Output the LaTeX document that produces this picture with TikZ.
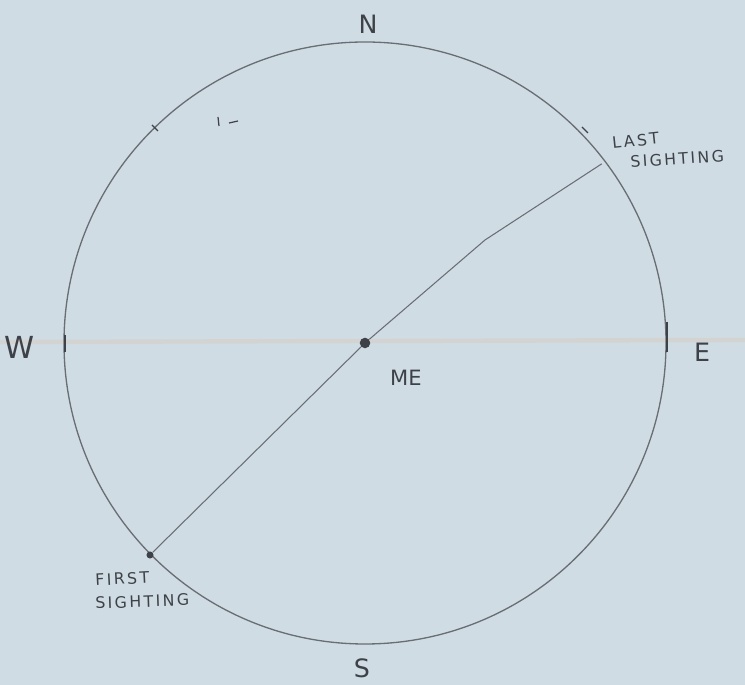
\documentclass[tikz,border=0pt]{standalone}
\usepackage{fontspec}
\setmainfont{DejaVu Sans}
\definecolor{paper}{RGB}{207,220,227}
\definecolor{pencil}{RGB}{105,110,116}
\definecolor{lead}{RGB}{62,66,72}
\definecolor{crease}{RGB}{214,208,200}
\usetikzlibrary{positioning}
\tikzset{
	ring/.style={draw=pencil, line width=0.75pt},
	sightline/.style={draw=pencil, line width=0.6pt},
	tick/.style={draw=lead, line width=0.7pt},
	dotmark/.style={circle, fill=lead, inner sep=0pt, minimum size=#1},
	compass/.style={text=lead, font=\Large, inner sep=0pt},
	note/.style={text=lead, font=\fontsize{9}{11}\selectfont\addfontfeatures{LetterSpace=15}, align=left, inner sep=0pt},
}
\begin{document}
\begin{tikzpicture}[x=0.02cm, y=-0.02cm]
		\fill[paper] (0,0) rectangle (745,685);
		\useasboundingbox (0,0) rectangle (745,685);
		% fold in the paper
		\draw[crease, line width=2.5pt, opacity=0.6] (0,342) -- (745,340);
		\node[dotmark=6pt] (me) at (365,343) {};
		\draw[ring] (me) circle[radius=301];
		\node[dotmark=4pt] (first) at (150,555) {};
		\node[inner sep=0pt] (last) at (603,163) {};
		\coordinate (bend) at (485,240);
		\draw[sightline] (first) -- (me) -- (bend) -- (last);
		% ticks on the circle
		\draw[tick] (65,335) -- (65,352);
		\draw[tick] (667,322) -- (667,352);
		\draw[tick] (152,125) -- (158,131);
		\draw[tick] (582,127) -- (588,133);
		\draw[tick] (218,117) -- (219,126);
		\draw[tick] (229,123) -- (238,121);
		% labels
		\node[compass] (north) at (368,24) {N};
		\node[compass] (south) at (362,668) {S};
		\node[compass, font=\LARGE] (west) at (20,347) {W};
		\node[compass] (east) at (702,352) {E};
		\node[note, font=\large] (melabel) at (406,378) {ME};
		\node[note, rotate=6, anchor=west] (lastlabel) at (612,143) {LAST};
		\node[note, rotate=4, anchor=west] (lastlabel2) at (630,162) {SIGHTING};
		\node[note, rotate=3, anchor=west] (firstlabel) at (95,580) {FIRST};
		\node[note, rotate=2, anchor=west] (firstlabel2) at (95,603) {SIGHTING};
	\end{tikzpicture}
\end{document}
